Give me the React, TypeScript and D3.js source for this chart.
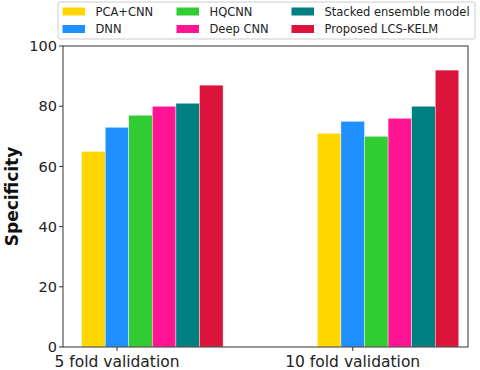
import React from "react";
import * as d3 from "d3";

const categories = ["5 fold validation", "10 fold validation"];
const seriesNames = ["PCA+CNN", "DNN", "HQCNN", "Deep CNN", "Stacked ensemble model", "Proposed LCS-KELM"];
const seriesColors = ["#FFD700", "#1E90FF", "#32CD32", "#FF1493", "#008080", "#DC143C"];
const valuesPCA = [65, 71];
const valuesDNN = [73, 75];
const valuesHQCNN = [77, 70];
const valuesDeepCNN = [80, 76];
const valuesStacked = [81, 80];
const valuesLCS = [87, 92];
const allValues = [valuesPCA, valuesDNN, valuesHQCNN, valuesDeepCNN, valuesStacked, valuesLCS];
const yTicks = [0, 20, 40, 60, 80, 100];

const W = 480, H = 370;
const left = 63, right = 468, top = 46, bottom = 347;
const barW = 0.1;

export default function App() {
  const x = d3.scaleLinear().domain([-0.229, 1.489]).range([left, right]);
  const y = d3.scaleLinear().domain([0, 100]).range([bottom, top]);
  const font = "DejaVu Sans, sans-serif";
  return (
    <svg width={W} height={H} style={{ position: "absolute", left: 0, top: 0 }} fontFamily={font}>
      <rect width={W} height={H} fill="white" />
      {allValues.map((vals, si) =>
        vals.map((v, ci) => {
          const x0 = x(ci + (si - 1.5) * barW);
          const x1 = x(ci + (si - 0.5) * barW);
          return (
            <rect key={`${si}-${ci}`} x={x0} y={y(v)} width={x1 - x0} height={y(0) - y(v)}
              fill={seriesColors[si]} stroke="white" strokeWidth={0.4} />
          );
        })
      )}
      <rect x={left} y={top} width={right - left} height={bottom - top} fill="none" stroke="#333" strokeWidth={1} />
      {yTicks.map((t) => (
        <g key={t}>
          <line x1={left - 4} x2={left} y1={y(t)} y2={y(t)} stroke="#333" />
          <text x={left - 6} y={y(t)} dy="0.36em" textAnchor="end" fontSize={14.5} fill="#222">{t}</text>
        </g>
      ))}
      {categories.map((c, i) => (
        <g key={c}>
          <line x1={x(i)} x2={x(i)} y1={bottom} y2={bottom + 4} stroke="#333" />
          <text x={x(i)} y={bottom + 20} textAnchor="middle" fontSize={15.5} fill="#222">{c}</text>
        </g>
      ))}
      <text transform={`translate(18,${(top + bottom) / 2}) rotate(-90)`} textAnchor="middle" fontSize={17} fontWeight="bold" fill="#111">Specificity</text>
      <rect x={58} y={2} width={417} height={37} rx={2} fill="white" stroke="#ccc" strokeWidth={1} />
      {seriesNames.map((n, i) => {
        const col = Math.floor(i / 2);
        const row = i % 2;
        const px = [62.5, 176.5, 291.5][col];
        const ty = [11.5, 29][row];
        return (
          <g key={n}>
            <rect x={px} y={ty - 4} width={22.5} height={8} fill={seriesColors[i]} />
            <text x={px + 33} y={ty} dy="0.35em" fontSize={11.5} fill="#222">{n}</text>
          </g>
        );
      })}
    </svg>
  );
}
